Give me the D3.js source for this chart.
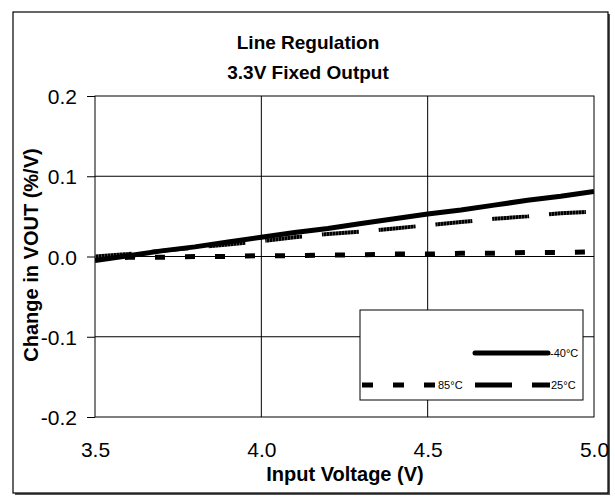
<!DOCTYPE html>
<meta charset="utf-8">
<style>
    body { margin: 0; background: #fff; }
    text { font-family: "Liberation Sans", Arial, sans-serif; fill: #000; }
    .grid line { stroke: #000; stroke-width: 1; }
</style>
<body>
<script src="https://d3js.org/d3.v7.min.js"></script>
<svg width="615" height="497"></svg>
<script>
    // values
    var voltage = [3.5, 3.6, 3.7, 3.8, 3.9, 4.0, 4.1, 4.2, 4.3, 4.4, 4.5, 4.6, 4.7, 4.8, 4.9, 5.0];
    var minus40 = [-0.005, 0.001, 0.007, 0.012, 0.018, 0.024, 0.030, 0.035, 0.041, 0.047, 0.053, 0.058, 0.064, 0.070, 0.075, 0.081];
    var temp85 = [-0.002, -0.001, -0.001, 0.000, 0.000, 0.001, 0.001, 0.002, 0.002, 0.003, 0.003, 0.004, 0.004, 0.005, 0.005, 0.006];
    var temp25 = [0.000, 0.003, 0.007, 0.011, 0.015, 0.019, 0.024, 0.028, 0.031, 0.035, 0.039, 0.043, 0.047, 0.050, 0.054, 0.056];
    var xTicks = [3.5, 4.0, 4.5, 5.0];
    var yTicks = [-0.2, -0.1, 0.0, 0.1, 0.2];

    var svg = d3.select("svg");
    var pLeft = 95, pRight = 594, pTop = 96, pBottom = 417;

    var x = d3.scaleLinear().domain([3.5, 5.0]).range([pLeft, pRight]);
    var y = d3.scaleLinear().domain([-0.2, 0.2]).range([pBottom, pTop]);

    // speckled texture used by the 25°C dashes
    var hatch = svg.append("defs").append("pattern").attr("id", "hatch")
        .attr("patternUnits", "userSpaceOnUse").attr("width", 3).attr("height", 3);
    hatch.append("rect").attr("width", 3).attr("height", 3).attr("fill", "#444");
    hatch.append("rect").attr("width", 2).attr("height", 3).attr("fill", "#000");

    // outer frame with a little shadow
    svg.append("rect").attr("x", 15).attr("y", 14).attr("width", 595).attr("height", 481)
        .attr("fill", "#555");
    svg.append("rect").attr("x", 13).attr("y", 12).attr("width", 595).attr("height", 481)
        .attr("fill", "#fff").attr("stroke", "#000").attr("stroke-width", 1.2);

    // titles
    svg.append("text").attr("x", 308).attr("y", 49).attr("text-anchor", "middle")
        .style("font-size", "19px").style("font-weight", "bold").text("Line Regulation");
    svg.append("text").attr("x", 308).attr("y", 79).attr("text-anchor", "middle")
        .style("font-size", "19px").style("font-weight", "bold").text("3.3V Fixed Output");

    // grid
    var grid = svg.append("g").attr("class", "grid");
    grid.selectAll(".vx").data([4.0, 4.5]).enter().append("line")
        .attr("x1", d => x(d)).attr("x2", d => x(d)).attr("y1", pTop).attr("y2", pBottom);
    grid.selectAll(".hy").data([-0.1, 0.0, 0.1]).enter().append("line")
        .attr("x1", pLeft).attr("x2", pRight).attr("y1", d => y(d)).attr("y2", d => y(d));

    svg.append("rect").attr("x", pLeft).attr("y", pTop).attr("width", pRight - pLeft).attr("height", pBottom - pTop)
        .attr("fill", "none").attr("stroke", "#000").attr("stroke-width", 1);

    // axes
    var yAxis = svg.append("g").attr("transform", "translate(" + pLeft + ",0)")
        .call(d3.axisLeft(y).tickValues(yTicks).tickSize(8).tickPadding(10)
            .tickFormat(d => d.toFixed(1)));
    yAxis.select(".domain").remove();
    yAxis.selectAll("line").attr("stroke", "#000");
    yAxis.selectAll("text").style("font-size", "21px").attr("dy", "0.36em")
        .style("font-family", "Liberation Sans, Arial, sans-serif");

    var xAxis = svg.append("g").attr("transform", "translate(0," + pBottom + ")")
        .call(d3.axisBottom(x).tickValues(xTicks).tickSize(0).tickPadding(25)
            .tickFormat(d => d.toFixed(1)));
    xAxis.select(".domain").remove();
    xAxis.selectAll("text").style("font-size", "21px")
        .style("font-family", "Liberation Sans, Arial, sans-serif");

    svg.append("text").attr("x", 345).attr("y", 481).attr("text-anchor", "middle")
        .style("font-size", "20px").style("font-weight", "bold").text("Input Voltage (V)");
    svg.append("text").attr("transform", "translate(38,255) rotate(-90)").attr("text-anchor", "middle")
        .style("font-size", "20px").style("font-weight", "bold").text("Change in VOUT (%/V)");

    // series
    svg.append("clipPath").attr("id", "plot").append("rect")
        .attr("x", pLeft).attr("y", pTop).attr("width", pRight - pLeft).attr("height", pBottom - pTop);

    var line = d3.line().x(d => x(d[0])).y(d => y(d[1]));
    var plot = svg.append("g").attr("clip-path", "url(#plot)");

    plot.append("path").datum(voltage.map((v, i) => [v, temp85[i]]))
        .attr("d", line).attr("fill", "none").attr("stroke", "#000")
        .attr("stroke-width", 5).attr("stroke-dasharray", "10,20");
    plot.append("path").datum(voltage.map((v, i) => [v, temp25[i]]))
        .attr("d", line).attr("fill", "none").attr("stroke", "url(#hatch)")
        .attr("stroke-width", 4).attr("stroke-dasharray", "37,20");
    plot.append("path").datum(voltage.map((v, i) => [v, minus40[i]]))
        .attr("d", line).attr("fill", "none").attr("stroke", "#000")
        .attr("stroke-width", 5);

    // legend
    var lg = svg.append("g");
    lg.append("rect").attr("x", 360).attr("y", 310).attr("width", 223).attr("height", 90)
        .attr("fill", "#fff").attr("stroke", "#000").attr("stroke-width", 1);
    lg.append("line").attr("x1", 475).attr("x2", 548).attr("y1", 353).attr("y2", 353)
        .attr("stroke", "#000").attr("stroke-width", 5).attr("stroke-linecap", "round");
    lg.append("text").attr("x", 550).attr("y", 357).style("font-size", "11px").text("-40°C");
    lg.append("line").attr("x1", 362).attr("x2", 435).attr("y1", 385).attr("y2", 385)
        .attr("stroke", "#000").attr("stroke-width", 5).attr("stroke-dasharray", "11,20");
    lg.append("text").attr("x", 438).attr("y", 389).style("font-size", "11px").text("85°C");
    lg.append("line").attr("x1", 475).attr("x2", 550).attr("y1", 385).attr("y2", 385)
        .attr("stroke", "#000").attr("stroke-width", 5).attr("stroke-dasharray", "37,20");
    lg.append("text").attr("x", 551).attr("y", 389).style("font-size", "11px").text("25°C");
</script>
</body>
